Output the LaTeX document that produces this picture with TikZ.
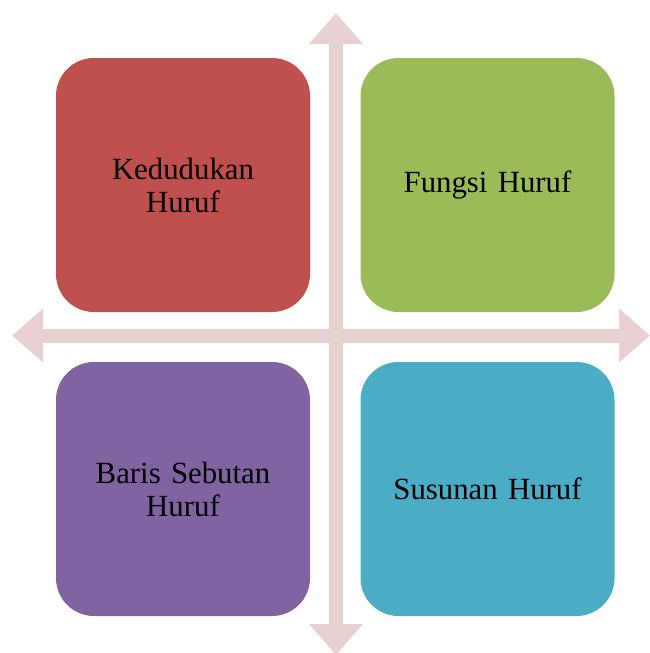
\documentclass[tikz,border=0pt]{standalone}
\usepackage{fontspec}
\setmainfont{Liberation Serif}
\usepackage{tikz}
\usetikzlibrary{arrows.meta, positioning}
\definecolor{kotakmerah}{HTML}{C0504D}
\definecolor{kotakhijau}{HTML}{9BBB59}
\definecolor{kotakungu}{HTML}{8064A2}
\definecolor{kotakbiru}{HTML}{4BACC6}
\definecolor{panah}{HTML}{E8D0D0}
\tikzset{
    kotak/.style ={rectangle, rounded corners=38pt, minimum width=254pt,
                   minimum height=254pt, align=center, text width=200pt,
                   font=\fontsize{30.8}{33}\selectfont},
    sumbu/.style = {line width=14pt, draw=panah,
                    {Triangle[width=52pt,length=31pt]}-{Triangle[width=52pt,length=31pt]}}
    }

\begin{document}
\begin{tikzpicture}[
      x = 1pt, y = -1pt % satu piksel gambar
    ]
    \useasboundingbox (0,0) rectangle (649,653);

    \coordinate (atas) at (336,13);
    \coordinate (bawah) at (336,655);
    \coordinate (kiri) at (12,335.5);
    \coordinate (kanan) at (650,335.5);

    \draw[sumbu] (atas) -- (bawah);
    \draw[sumbu] (kiri) -- (kanan);

    \node[kotak, fill=kotakmerah] (kedudukan) at (183,185) {Kedudukan\\Huruf};
    \node[kotak, fill=kotakhijau] (fungsi) at (487.5,185) {Fungsi Huruf};
    \node[kotak, fill=kotakungu] (baris) at (183,489) {Baris Sebutan\\Huruf};
    \node[kotak, fill=kotakbiru] (susunan) at (487.5,489) {Susunan Huruf};

\end{tikzpicture}
\end{document}
